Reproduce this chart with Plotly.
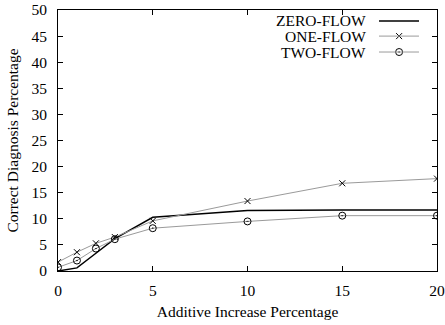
import plotly.graph_objects as go

x_vals = [0, 1, 2, 3, 5, 10, 15, 20]
zero_flow = [0.0, 0.6, 3.4, 6.2, 10.3, 11.6, 11.7, 11.7]
one_flow = [1.7, 3.6, 5.3, 6.5, 9.6, 13.4, 16.8, 17.7]
two_flow = [0.7, 2.0, 4.3, 6.1, 8.2, 9.5, 10.6, 10.6]
series_names = ["ZERO-FLOW", "ONE-FLOW", "TWO-FLOW"]
x_ticks = [0, 5, 10, 15, 20]
y_ticks = [0, 5, 10, 15, 20, 25, 30, 35, 40, 45, 50]

FONT = "Liberation Serif"
FS = 15.5
GRAY = "#9a9a9a"

fig = go.Figure()
fig.add_trace(go.Scatter(x=x_vals, y=zero_flow, mode="lines",
                         line=dict(color="black", width=1.5), showlegend=False))
fig.add_trace(go.Scatter(x=x_vals, y=one_flow, mode="lines+markers",
                         line=dict(color=GRAY, width=1),
                         marker=dict(symbol="x-thin-open", size=6, color="black",
                                     line=dict(color="black", width=1)),
                         showlegend=False))
fig.add_trace(go.Scatter(x=x_vals, y=two_flow, mode="lines+markers",
                         line=dict(color=GRAY, width=1),
                         marker=dict(symbol="circle-open-dot", size=7, color="black",
                                     line=dict(color="black", width=1)),
                         showlegend=False))

# custom legend (text right-aligned, sample to the right)
leg_y = [0.958, 0.900, 0.839]
line_x0, line_x1, mark_x, text_x = 0.847, 0.9525, 0.90, 0.818
styles = [
    dict(color="black", width=1.5, sym=None),
    dict(color=GRAY, width=1, sym="x-thin-open", size=6),
    dict(color=GRAY, width=1, sym="circle-open-dot", size=7),
]
for name, yy, st in zip(series_names, leg_y, styles):
    fig.add_annotation(x=text_x, y=yy, xref="x domain", yref="y domain", text=name,
                       showarrow=False, xanchor="right", yanchor="middle",
                       font=dict(family=FONT, size=FS, color="black"))
    fig.add_shape(type="line", x0=line_x0, x1=line_x1, y0=yy, y1=yy,
                  xref="x domain", yref="y domain",
                  line=dict(color=st["color"], width=st["width"]))
    if st["sym"]:
        fig.add_trace(go.Scatter(x=[mark_x], y=[yy], xaxis="x2", yaxis="y2",
                                 mode="markers", showlegend=False, hoverinfo="skip",
                                 marker=dict(symbol=st["sym"], size=st["size"], color="black",
                                             line=dict(color="black", width=1))))

axis_common = dict(showgrid=False, zeroline=False, showline=True, linecolor="black",
                   linewidth=1, mirror="ticks", ticks="inside", ticklen=5,
                   tickcolor="black", tickwidth=1, automargin=False,
                   tickfont=dict(family=FONT, size=FS, color="black"))

fig.update_layout(
    width=445, height=325,
    margin=dict(l=58, r=8, t=10, b=54),
    paper_bgcolor="white", plot_bgcolor="white",
    showlegend=False,
    xaxis=dict(range=[0, 20], tickvals=x_ticks, ticklabelstandoff=5,
               title=dict(text="Additive Increase Percentage", standoff=8,
                          font=dict(family=FONT, size=FS, color="black")),
               **axis_common),
    yaxis=dict(range=[0, 50], tickvals=y_ticks, ticklabelstandoff=7,
               title=dict(text="Correct Diagnosis Percentage", standoff=8,
                          font=dict(family=FONT, size=FS, color="black")),
               **axis_common),
    xaxis2=dict(range=[0, 1], overlaying="x", visible=False),
    yaxis2=dict(range=[0, 1], overlaying="y", visible=False),
)

fig.write_html("out.html")
